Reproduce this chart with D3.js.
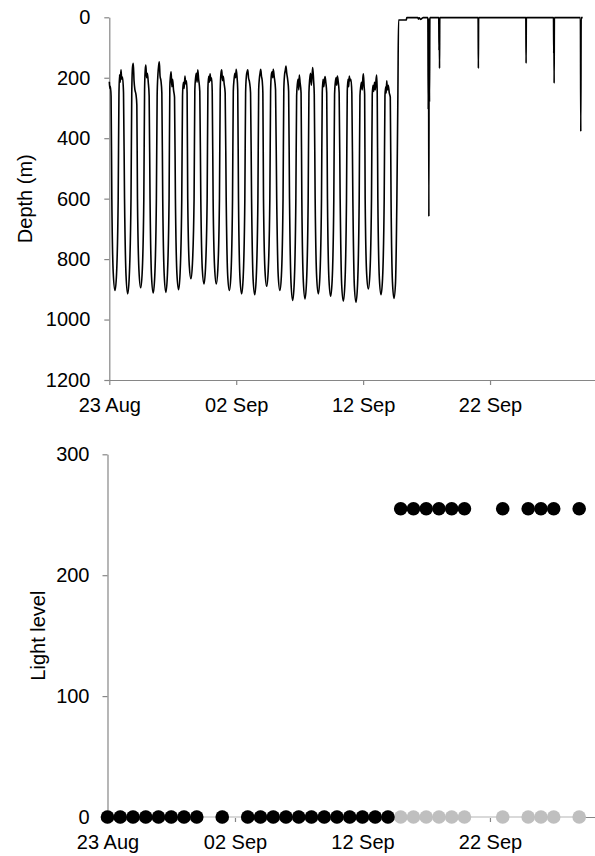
<!DOCTYPE html>
<html><head><meta charset="utf-8">
<script src="https://cdn.jsdelivr.net/npm/d3@7"></script>
<style>
body{margin:0;background:#fff}
svg{display:block}
text{font-family:Arial,"Liberation Sans",sans-serif}
</style>
</head><body>
<svg id="chart" width="595" height="856"></svg>
<script>
// ---------- DATA ----------
const startDate = "2008-08-23";
const dateTickLabels = ["2008-08-23", "2008-09-02", "2008-09-12", "2008-09-22"];
const depthTicks = [0, 200, 400, 600, 800, 1000, 1200];
const lightTicks = [0, 100, 200, 300];

// depth trace: [days since 23 Aug 00:00, depth (m)]
const depthTrace = [
[0.00,213],[0.04,235],[0.09,228],[0.14,262],[0.20,600],[0.31,845],[0.45,904],[0.57,850],
[0.70,600],[0.76,255],[0.81,190],[0.86,215],[0.92,174],[0.98,205],[1.04,198],[1.12,250],[1.20,600],[1.32,855],[1.45,915],[1.57,860],
[1.71,600],[1.77,250],[1.83,165],[1.89,152],[1.95,210],[2.02,240],[2.10,255],[2.17,290],[2.22,600],[2.34,840],[2.47,895],[2.59,845],
[2.72,600],[2.78,240],[2.83,175],[2.88,158],[2.94,200],[3.00,185],[3.07,215],[3.14,260],[3.21,600],[3.33,860],[3.46,912],[3.58,858],
[3.71,600],[3.77,260],[3.83,190],[3.89,160],[3.94,147],[4.00,195],[4.07,210],[4.14,250],[4.21,600],[4.33,855],[4.46,910],[4.58,850],
[4.71,600],[4.77,230],[4.82,195],[4.87,180],[4.93,230],[4.99,205],[5.06,240],[5.14,265],[5.21,600],[5.33,850],[5.46,901],[5.58,845],
[5.71,600],[5.77,260],[5.83,215],[5.90,235],[5.96,194],[6.02,220],[6.08,210],[6.13,250],[6.18,600],[6.30,820],[6.43,865],[6.55,815],
[6.68,600],[6.74,240],[6.80,200],[6.86,185],[6.92,215],[6.97,174],[7.04,205],[7.13,245],[7.21,600],[7.33,835],[7.46,882],[7.58,830],
[7.71,600],[7.77,235],[7.83,195],[7.88,215],[7.94,187],[8.00,210],[8.06,200],[8.11,245],[8.18,600],[8.30,830],[8.43,882],[8.55,835],
[8.68,600],[8.74,240],[8.80,185],[8.86,174],[8.92,210],[8.98,195],[9.05,220],[9.13,250],[9.21,600],[9.33,855],[9.46,904],[9.58,855],
[9.71,600],[9.77,245],[9.83,205],[9.89,185],[9.95,200],[10.00,172],[10.06,195],[10.12,240],[10.18,600],[10.30,865],[10.43,915],[10.55,860],
[10.68,600],[10.74,250],[10.80,195],[10.86,180],[10.91,174],[10.97,200],[11.05,215],[11.13,250],[11.21,600],[11.33,865],[11.46,918],[11.58,860],
[11.71,600],[11.77,240],[11.83,200],[11.88,185],[11.93,172],[11.99,195],[12.05,210],[12.10,250],[12.15,600],[12.27,840],[12.40,890],[12.52,840],
[12.65,600],[12.71,245],[12.77,190],[12.83,180],[12.88,200],[12.92,172],[12.99,195],[13.10,240],[13.19,600],[13.31,855],[13.44,904],[13.56,855],
[13.69,600],[13.75,240],[13.81,190],[13.87,175],[13.92,161],[13.98,185],[14.05,205],[14.13,245],[14.20,600],[14.32,880],[14.45,937],[14.57,880],
[14.70,600],[14.76,260],[14.82,220],[14.88,205],[14.93,240],[14.97,191],[15.03,215],[15.11,250],[15.17,600],[15.29,875],[15.42,932],[15.54,875],
[15.67,600],[15.73,250],[15.79,205],[15.86,185],[15.92,225],[15.98,190],[16.03,166],[16.10,210],[16.15,255],[16.22,600],[16.34,860],[16.47,915],[16.59,860],
[16.72,600],[16.78,250],[16.84,205],[16.90,230],[16.95,210],[17.00,196],[17.06,215],[17.13,250],[17.19,600],[17.31,870],[17.44,923],[17.56,870],
[17.69,600],[17.75,255],[17.81,215],[17.87,200],[17.92,225],[17.97,194],[18.03,210],[18.11,250],[18.19,600],[18.31,885],[18.44,939],[18.56,885],
[18.69,600],[18.75,245],[18.81,205],[18.86,230],[18.91,194],[18.97,210],[19.04,205],[19.11,250],[19.19,600],[19.31,890],[19.44,943],[19.56,885],
[19.69,600],[19.75,260],[19.81,230],[19.87,215],[19.93,240],[19.98,200],[20.02,187],[20.08,230],[20.12,255],[20.16,600],[20.28,850],[20.41,899],[20.53,850],
[20.66,600],[20.72,255],[20.78,225],[20.84,245],[20.90,215],[20.96,240],[21.02,205],[21.07,191],[21.11,250],[21.16,600],[21.28,865],[21.41,918],[21.53,865],
[21.66,600],[21.72,260],[21.78,230],[21.82,250],[21.86,210],[21.92,240],[21.98,225],[22.06,250],[22.14,265],[22.20,600],[22.31,875],[22.43,930],[22.55,880],
[22.66,600],[22.74,250],[22.79,9],[23.40,9],[23.44,1],
[24.30,1],[24.36,6],[24.42,2],[24.55,7],[24.68,2],[24.72,1],
[25.10,1],[25.13,305],[25.15,2],[25.18,659],[25.20,2],[25.23,280],[25.26,1],
[25.96,1],[25.98,110],[26.00,2],[26.02,169],[26.04,1],
[29.06,1],[29.08,169],[29.10,1],
[32.82,1],[32.84,152],[32.86,1],
[35.00,1],[35.02,120],[35.03,2],[35.05,218],[35.07,1],
[37.12,1],[37.15,378],[37.18,1],[37.30,1]
];

// light records (days since 23 Aug), max and min light level per day
const lightDays = [0,1,2,3,4,5,6,7,9,11,12,13,14,15,16,17,18,19,20,21,22,23,24,25,26,27,28,31,33,34,35,37];
const lightMax  = [0,0,0,0,0,0,0,0,0,0,0,0,0,0,0,0,0,0,0,0,0,255,255,255,255,255,255,255,255,255,255,255];
const lightMin  = [0,0,0,0,0,0,0,0,0,0,0,0,0,0,0,0,0,0,0,0,0,0,0,0,0,0,0,0,0,0,0,0];

// ---------- DRAW ----------
const DAY = 864e5;
const t0 = new Date(startDate + "T00:00:00Z").getTime();
const toDate = d => new Date(t0 + d * DAY);
const svg = d3.select("#chart");
const axisColor = "#868686";
const fmt = d3.utcFormat("%d %b");
const numFmt = d3.format("d");
const dateTicks = dateTickLabels.map(s => new Date(s + "T00:00:00Z"));

function styleAxis(g) {
  g.select(".domain").attr("stroke", axisColor).attr("stroke-width", 1.2);
  g.selectAll(".tick line").attr("stroke", axisColor).attr("stroke-width", 1.2);
  g.selectAll(".tick text").attr("fill", "#000").style("font-size", "20px")
    .style("font-family", 'Arial,"Liberation Sans",sans-serif');
}

// Top chart
const xTop = d3.scaleUtc().domain([toDate(0), toDate(38.27)]).range([109.3, 595]);
const yTop = d3.scaleLinear().domain([0, 1200]).range([17.3, 380]);

svg.append("g").attr("transform", "translate(0,380)")
  .call(d3.axisBottom(xTop).tickValues(dateTicks).tickFormat(fmt).tickSize(5).tickSizeOuter(0).tickPadding(13))
  .call(styleAxis);
svg.append("g").attr("transform", "translate(109.3,0)")
  .call(d3.axisLeft(yTop).tickValues(depthTicks).tickFormat(numFmt).tickSize(5).tickSizeOuter(0).tickPadding(14))
  .call(styleAxis);

svg.append("path")
  .datum(depthTrace)
  .attr("fill", "none")
  .attr("stroke", "#000")
  .attr("stroke-width", 1.6)
  .attr("stroke-linejoin", "round")
  .attr("d", d3.line().x(d => xTop(toDate(d[0]))).y(d => yTop(d[1])).curve(d3.curveMonotoneX));

svg.append("text")
  .attr("transform", "translate(25,198.7) rotate(-90)")
  .attr("text-anchor", "middle").attr("dominant-baseline", "central")
  .style("font-size", "20px").attr("fill", "#000").text("Depth (m)");

// Bottom chart
const xBot = d3.scaleUtc().domain([toDate(0), toDate(38.24)]).range([107.5, 595]);
const yBot = d3.scaleLinear().domain([0, 300]).range([817, 454.3]);

svg.append("g").attr("transform", "translate(0,817)")
  .call(d3.axisBottom(xBot).tickValues(dateTicks).tickFormat(fmt).tickSize(5).tickSizeOuter(0).tickPadding(13))
  .call(styleAxis);
svg.append("g").attr("transform", "translate(107.5,0)")
  .call(d3.axisLeft(yBot).tickValues(lightTicks).tickFormat(numFmt).tickSize(5).tickSizeOuter(0).tickPadding(13))
  .call(styleAxis);

const lightData = lightDays.map((d, i) => ({day: d, max: lightMax[i], min: lightMin[i]}));

svg.append("path")
  .datum(lightData)
  .attr("fill", "none").attr("stroke", "#d9d9d9").attr("stroke-width", 2)
  .attr("d", d3.line().x(d => xBot(toDate(d.day))).y(d => yBot(d.min)));

svg.append("g").selectAll("circle").data(lightData).join("circle")
  .attr("cx", d => xBot(toDate(d.day))).attr("cy", d => yBot(d.min))
  .attr("r", 6.8).attr("fill", "#bfbfbf");

svg.append("g").selectAll("circle").data(lightData).join("circle")
  .attr("cx", d => xBot(toDate(d.day))).attr("cy", d => yBot(d.max))
  .attr("r", 6.8).attr("fill", "#000");

svg.append("text")
  .attr("transform", "translate(38,635.6) rotate(-90)")
  .attr("text-anchor", "middle").attr("dominant-baseline", "central")
  .style("font-size", "20px").attr("fill", "#000").text("Light level");
</script>
</body></html>
